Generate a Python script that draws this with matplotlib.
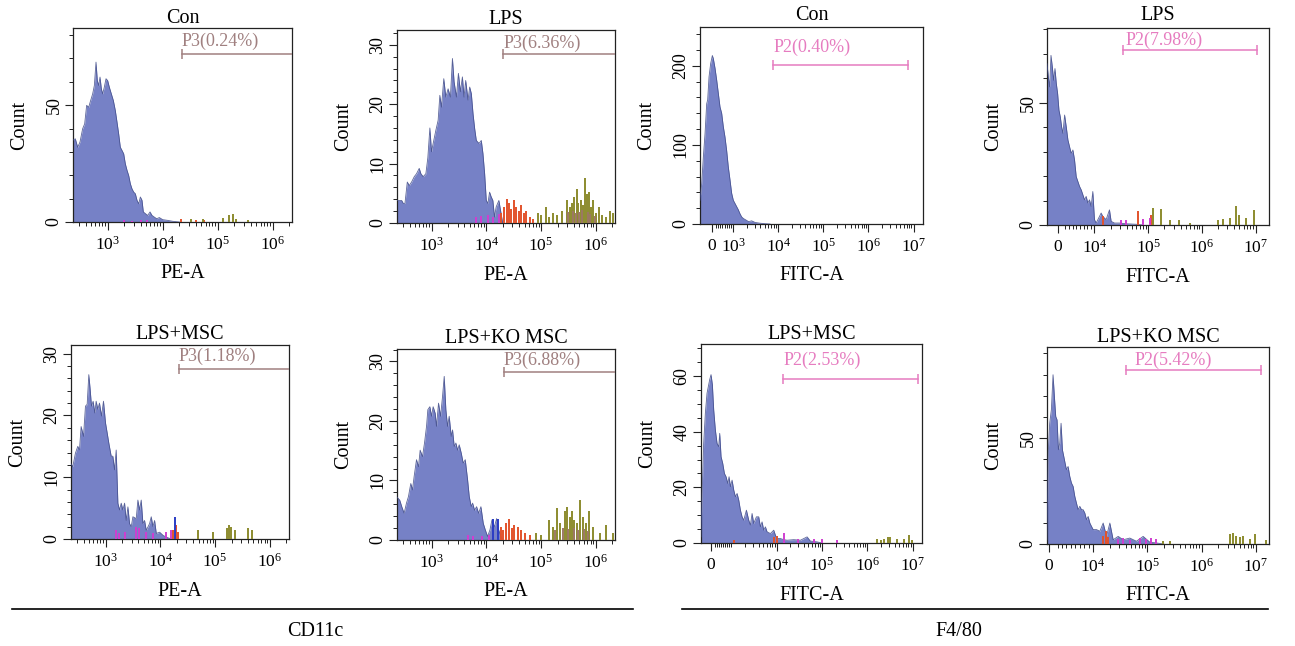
import numpy as np
import matplotlib
matplotlib.use("Agg")
import matplotlib.pyplot as plt
from matplotlib.lines import Line2D
from matplotlib.ticker import FixedLocator, MultipleLocator

plt.rcParams['font.family'] = ['Liberation Serif', 'DejaVu Serif']
plt.rcParams['mathtext.fontset'] = 'custom'
plt.rcParams['mathtext.rm'] = 'Liberation Serif'
plt.rcParams['mathtext.it'] = 'Liberation Serif:italic'
plt.rcParams['mathtext.bf'] = 'Liberation Serif:bold'

# ============================ DATA ============================
group_titles = ["Con", "LPS", "LPS+MSC", "LPS+KO MSC"]
marker_names = ["CD11c", "F4/80"]
channel_names = ["PE-A", "FITC-A"]
gate_names = ["P3", "P2"]
cd11c_gate_pct = ["0.24", "6.36", "1.18", "6.88"]
f480_gate_pct = ["0.40", "7.98", "2.53", "5.42"]

# ---- CD11c (PE-A), x given as log10(PE-A) ----
cd11c_con_exp = [2.36, 2.412, 2.455, 2.497, 2.545, 2.582, 2.618, 2.655, 2.691, 2.727,
                 2.758, 2.788, 2.812, 2.836, 2.861, 2.885, 2.909, 2.939, 2.970, 3.0,
                 3.030, 3.067, 3.103, 3.139, 3.170, 3.2, 3.230, 3.261, 3.291, 3.321,
                 3.352, 3.382, 3.412, 3.442, 3.473, 3.503, 3.533, 3.564, 3.594, 3.624,
                 3.648, 3.685, 3.727, 3.770, 3.806, 3.848, 3.891, 3.939, 4.0, 4.091,
                 4.182, 4.303]
cd11c_con_cnt = [34.9, 35.6, 32, 34.2, 39.9, 42, 49.9, 49.1, 52, 54.8,
                 58.4, 68.4, 60.5, 58.4, 62, 57, 54.8, 57.7, 61.3, 60.5,
                 57.7, 54.8, 52, 47.7, 42.7, 37.7, 32, 30.6, 29.2, 24.9,
                 22.1, 19.9, 16.4, 14.2, 12.8, 12.1, 9.3, 7.8, 10.7, 9.3,
                 4.3, 3.6, 2.8, 4.3, 2.8, 2.1, 1.4, 1.9, 1, 0.7,
                 0.3, 0]

cd11c_lps_exp = [2.36, 2.455, 2.485, 2.515, 2.558, 2.594, 2.636, 2.685, 2.727, 2.776,
                 2.806, 2.848, 2.897, 2.933, 2.970, 3.0, 3.03, 3.079, 3.121, 3.152,
                 3.182, 3.224, 3.261, 3.303, 3.345, 3.382, 3.412, 3.455, 3.491, 3.527,
                 3.564, 3.594, 3.624, 3.667, 3.697, 3.727, 3.758, 3.788, 3.818, 3.867,
                 3.909, 3.939, 3.97, 4.0, 4.03, 4.06, 4.09, 4.12, 4.15, 4.18,
                 4.23, 4.27, 4.30]
cd11c_lps_cnt = [3.8, 3.8, 3.3, 3.3, 6.9, 6.3, 6.9, 7.8, 8.3, 9.2,
                 8.3, 7.8, 8.3, 11, 16, 12, 13.4, 15.6, 17.3, 21.5,
                 19.5, 24.3, 21.2, 22.6, 21.2, 27.7, 23.8, 21.2, 25.2, 22.1,
                 24.6, 21.2, 24, 20.7, 22.9, 21.8, 18.4, 15.9, 13.9, 13.4,
                 13.9, 11.7, 8.3, 3.8, 3.3, 5.2, 4.4, 3.8, 1, 2.7,
                 3.8, 1.6, 0]

cd11c_msc_exp = [2.36, 2.402, 2.451, 2.494, 2.524, 2.555, 2.598, 2.634, 2.665, 2.695,
                 2.720, 2.744, 2.774, 2.805, 2.829, 2.860, 2.890, 2.927, 2.963, 3.0,
                 3.030, 3.061, 3.104, 3.134, 3.165, 3.195, 3.226, 3.256, 3.287, 3.317,
                 3.348, 3.378, 3.409, 3.439, 3.470, 3.5, 3.561, 3.591, 3.622, 3.652,
                 3.683, 3.713, 3.744, 3.805, 3.835, 3.866, 3.896, 3.927, 3.988, 4.049,
                 4.110, 4.171, 4.23]
cd11c_msc_cnt = [12.3, 11.7, 13.9, 15, 14.4, 18.2, 16.6, 21.5, 21.8, 26.6,
                 24.2, 21.5, 22.3, 20.4, 22.3, 21, 22, 19.9, 22.3, 18.8,
                 17.2, 15.5, 13.4, 13.4, 11.2, 14.4, 5.8, 4.7, 5.8, 4.7,
                 5.8, 3, 5.2, 2.5, 2, 3.6, 3.3, 6.3, 4.7, 6.3,
                 2.5, 3, 1.4, 2.5, 3.6, 2, 3, 0.9, 1.1, 0.6,
                 0.3, 0.1, 0]

cd11c_ko_exp = [2.36, 2.42, 2.457, 2.5, 2.543, 2.579, 2.622, 2.652, 2.683,
                2.726, 2.762, 2.793, 2.835, 2.872, 2.909, 2.933, 2.97, 3.0, 3.03,
                3.067, 3.091, 3.128, 3.165, 3.201, 3.232, 3.262, 3.293, 3.323, 3.36,
                3.384, 3.415, 3.445, 3.476, 3.506, 3.543, 3.579, 3.616, 3.659, 3.689,
                3.726, 3.75, 3.787, 3.823, 3.86, 3.902, 3.945, 3.982, 4.024, 4.067,
                4.104, 4.146, 4.189, 4.226, 4.268, 4.30]
cd11c_ko_cnt = [7.3, 6.7, 5.6, 4.5, 6.2, 7.3, 9.5, 8.4, 10.7,
                13.5, 12.3, 15.1, 14, 16.3, 19.1, 21.9, 22.4, 20.8, 22.4,
                21.3, 19.1, 23, 20.8, 24.1, 27.5, 21.9, 19.1, 20.8, 17.4,
                18.5, 15.7, 16.3, 15.1, 16, 14.6, 12.9, 13.5, 10.1, 7.3,
                5.6, 6.2, 5, 5.6, 4.5, 5.6, 2.8, 1.7, 0.6, 1.7,
                3.4, 2.2, 3.6, 1.7, 0.6, 0]

# coloured sub-populations, CD11c (log10 x, count)
cd11c_con_mag_exp = [3.3, 3.45, 3.6, 3.72]
cd11c_con_mag_h = [0.8, 0.6, 1.0, 0.7]
cd11c_con_red_exp = [4.33, 4.6, 4.75]
cd11c_con_red_h = [1.2, 1.0, 0.7]
cd11c_con_oli_exp = [4.52, 4.73, 5.09, 5.21, 5.27, 5.33, 5.55]
cd11c_con_oli_h = [1.4, 1.1, 1.9, 2.8, 3.3, 1.4, 1.0]

cd11c_lps_mag_exp = [3.82, 3.91, 4.03, 4.12, 4.24]
cd11c_lps_mag_h = [1.0, 1.2, 1.4, 1.0, 1.5]
cd11c_lps_red_exp = [4.27, 4.33, 4.38, 4.41, 4.45, 4.5, 4.55, 4.59, 4.64, 4.68, 4.73, 4.79, 4.85]
cd11c_lps_red_h = [1.6, 2.7, 4.1, 3.3, 2.4, 3.8, 2.7, 2.1, 3.0, 1.6, 2.1, 1.0, 0.7]
cd11c_lps_oli_exp = [4.94, 5.0, 5.09, 5.15, 5.21, 5.3, 5.39, 5.47, 5.52, 5.56, 5.61, 5.65,
                     5.68, 5.73, 5.77, 5.8, 5.83, 5.87, 5.91, 5.95, 6.0, 6.06, 6.12, 6.19,
                     6.25, 6.32]
cd11c_lps_oli_h = [1.6, 1.3, 2.7, 1.0, 1.6, 1.3, 2.1, 3.8, 2.7, 3.3, 4.4, 5.8,
                   3.3, 3.8, 3.0, 7.6, 4.9, 5.2, 2.7, 3.8, 1.6, 2.7, 1.3, 1.0,
                   2.1, 1.6]
cd11c_lps_brn_exp = [5.5, 5.58, 5.64, 5.7, 5.75, 5.85, 5.9, 5.98]
cd11c_lps_brn_h = [1.8, 2.0, 1.6, 1.8, 2.2, 1.9, 1.5, 1.2]

cd11c_msc_mag_exp = [3.2, 3.24, 3.35, 3.56, 3.61, 3.74, 3.87, 4.11, 4.2]
cd11c_msc_mag_h = [1.4, 0.9, 1.1, 2.0, 1.7, 1.1, 0.9, 1.1, 1.4]
cd11c_msc_blu_exp = [4.27]
cd11c_msc_blu_h = [3.6]
cd11c_msc_red_exp = [4.23, 4.29, 4.32]
cd11c_msc_red_h = [1.4, 2.2, 1.1]
cd11c_msc_oli_exp = [4.69, 4.96, 5.21, 5.26, 5.3, 5.36, 5.6, 5.68]
cd11c_msc_oli_h = [1.4, 1.1, 1.7, 2.2, 2.0, 1.4, 1.7, 1.4]

cd11c_ko_mag_exp = [3.66, 3.75, 3.93, 4.05]
cd11c_ko_mag_h = [0.8, 0.6, 0.6, 0.8]
cd11c_ko_blu_exp = [4.12, 4.21]
cd11c_ko_blu_h = [3.6, 3.6]
cd11c_ko_red_exp = [4.27, 4.31, 4.36, 4.42, 4.47, 4.51, 4.57, 4.63, 4.7, 4.79]
cd11c_ko_red_h = [2.2, 1.7, 2.8, 3.6, 2.0, 2.5, 2.2, 1.7, 1.1, 0.8]
cd11c_ko_oli_exp = [4.91, 5.0, 5.15, 5.21, 5.3, 5.35, 5.43, 5.47, 5.52, 5.57, 5.61, 5.65,
                    5.71, 5.76, 5.82, 5.88, 5.95, 6.07, 6.18, 6.31]
cd11c_ko_oli_h = [1.1, 0.8, 3.4, 2.2, 5.3, 2.8, 4.8, 5.6, 3.9, 4.8, 3.4, 2.8,
                  6.7, 3.9, 2.8, 4.8, 2.2, 1.1, 2.5, 1.1]
cd11c_ko_brn_exp = [5.25, 5.4, 5.5, 5.6, 5.68, 5.78, 5.86]
cd11c_ko_brn_h = [1.6, 2.0, 1.8, 2.1, 1.7, 1.9, 1.5]

# ---- F4/80 (FITC-A), x given in FITC-A units ----
f480_con_x = [-540, -462, -385, -308, -231, -185, -123, -46, 31, 77,
              154, 231, 308, 385, 462, 538, 615, 692, 769, 846,
              923, 1000, 1089, 1186, 1291, 1406, 1531, 1668, 1913, 2183,
              2555, 3030, 3910, 5053, 6534]
f480_con_cnt = [30, 51, 85, 114, 152, 157, 186, 203, 213, 209,
                197, 182, 165, 148, 140, 123, 110, 93, 72, 56,
                39, 30, 26, 22, 18, 13, 9, 7, 5, 3,
                4, 2, 1, 0.4, 0]

f480_lps_x = [-3000, -2636, -2273, -1909, -1545, -1182, -818, -455, -91, 273,
              636, 1000, 1364, 1818, 2273, 2727, 3182, 3636, 4091, 4545,
              5000, 5455, 5909, 6364, 6818, 7273, 7727, 8182, 8636, 9091,
              9545, 10000, 10740, 12390, 13310, 14300, 16490, 19030, 20440, 23580,
              29230, 38920, 59800, 80000]
f480_lps_cnt = [66, 60.6, 56.5, 69.4, 64.7, 59.2, 64, 57.9, 53.8, 47,
                44.3, 40.2, 37.5, 45, 40.2, 34.8, 32, 29.3, 30.7, 26.6,
                19.8, 17.8, 15.8, 14.4, 12.4, 10.3, 11.7, 9, 10.3, 7.6,
                13.7, 2.2, 0.8, 3.5, 4.9, 3.5, 2.2, 6.2, 1.5, 0.8,
                0.8, 0.5, 0.3, 0]

f480_msc_x = [-492, -443, -361, -279, -197, -131, -66, 0, 66, 131,
              213, 295, 377, 426, 492, 574, 656, 738, 820, 885,
              951, 1034, 1126, 1225, 1334, 1451, 1580, 1719, 1872, 2142,
              2411, 2625, 2857, 3109, 3561, 4005, 4362, 4747, 5168, 5625,
              6122, 7254, 8593, 9350, 10180, 12060, 14290, 16930, 23760, 33360,
              46820, 55100, 77400, 100000]
f480_msc_cnt = [2.2, 16.6, 35.8, 46.6, 53.8, 56.3, 58.7, 60.5, 56.9, 47.8,
                40.6, 35.8, 34.6, 39.4, 31, 28.6, 25, 23.8, 21.4, 23.8,
                20.2, 22.6, 19, 16.6, 17.8, 15.4, 11.8, 9.4, 8.2, 11.8,
                8.2, 6.4, 10.6, 7, 9.4, 9.4, 5.8, 7.6, 4.6, 5.8,
                4, 3.4, 4.6, 2.8, 1.6, 1.6, 1.2, 1, 1.2, 1,
                2.2, 0.7, 0.4, 0]

f480_ko_x = [-380, -75, 226, 602, 977, 1278, 1579, 1880, 2180, 2481,
             2782, 3083, 3383, 3684, 3985, 4361, 4737, 5113, 5489, 5865,
             6241, 6617, 6992, 7368, 7744, 8120, 8496, 8872, 9248, 9624,
             10000, 11520, 13270, 15280, 17600, 20270, 23350, 28880, 35650, 47300,
             62700, 83300, 110000, 146000, 200000]
f480_ko_cnt = [2, 44.5, 57, 63.4, 79.9, 69.7, 60.2, 58.6, 44.5, 47.6,
               57, 44.5, 41.4, 38.2, 35.1, 36.6, 31.9, 28.8, 27.2, 22.5,
               19.3, 16.2, 17.8, 16.2, 16.2, 14.6, 11.5, 13, 9.9, 8.3,
               6.8, 6.8, 6, 9.9, 3.6, 9.9, 2, 3.6, 2, 2.8,
               1.3, 3.6, 0.9, 0.5, 0]

# coloured sub-populations, F4/80 (FITC-A, count)
f480_lps_red_x = [14300, 64000, 114000]
f480_lps_red_h = [3.5, 5.6, 4.0]
f480_lps_mag_x = [31400, 39000, 79000, 106000]
f480_lps_mag_h = [2.0, 2.0, 2.5, 3.0]
f480_lps_oli_x = [122000, 175000, 250000, 383000, 590000, 1990000, 2450000, 3300000,
                  4400000, 5000000, 6700000, 9500000]
f480_lps_oli_h = [7.0, 6.5, 2.0, 2.0, 1.0, 2.0, 2.5, 3.0, 7.6, 4.0, 3.0, 6.0]

f480_msc_red_x = [1130, 8600, 10000]
f480_msc_red_h = [1.0, 2.0, 2.5]
f480_msc_mag_x = [14300, 30000, 65000, 100000, 210000]
f480_msc_mag_h = [3.6, 1.5, 1.5, 1.5, 1.0]
f480_msc_oli_x = [1630000, 2000000, 2300000, 2800000, 3200000, 4550000, 6400000, 8200000, 9700000]
f480_msc_oli_h = [1.5, 1.2, 1.5, 2.0, 2.2, 1.5, 1.5, 3.0, 1.0]

f480_ko_red_x = [15000, 17000, 19000]
f480_ko_red_h = [4.0, 6.0, 3.5]
f480_ko_mag_x = [28900, 35700, 47300, 72000, 96000, 118000, 146000]
f480_ko_mag_h = [2.5, 3.0, 2.0, 3.0, 2.5, 3.0, 2.5]
f480_ko_oli_x = [194000, 257000, 3270000, 3800000, 4350000, 5000000, 5770000, 7600000,
                 9400000, 15600000]
f480_ko_oli_h = [1.5, 1.5, 4.5, 5.0, 4.0, 3.5, 4.0, 2.5, 4.5, 2.0]

# gates (x start, x end, y level)
cd11c_gate_x0_exp = [4.35, 4.31, 4.335, 4.317]
cd11c_gate_y = [72, 28.5, 27.5, 28.2]
f480_gate_x0 = [7740, 33700, 13800, 41000]
f480_gate_x1 = [7480000, 10600000, 12900000, 12600000]
f480_gate_y = [201, 71.5, 58.9, 82]

# ============================ STYLE / LAYOUT ============================
FIG_W, FIG_H = 1295, 646
BLUE_FILL = '#7681c6'
BLUE_EDGE = '#404b88'
MAGENTA = '#cf3fd0'
RED = '#e2522b'
OLIVE = '#8c8b2e'
BROWN = '#9c7864'
SPIKE_BLUE = '#2a3cc4'
GATE_PE = '#a08080'
GATE_FITC = '#e67cc0'

fig = plt.figure(figsize=(FIG_W / 100, FIG_H / 100), dpi=100)


def px_rect(l, t, r, b):
    return [l / FIG_W, 1 - b / FIG_H, (r - l) / FIG_W, (b - t) / FIG_H]


def sup(d):
    return r'$\mathregular{10^{%d}}$' % d


pe_panels = [
    dict(rect=(73, 28, 292, 222), exp=cd11c_con_exp, cnt=cd11c_con_cnt, ytop=83,
         yt=[0, 50], ym=10, tpad=3.9, txt_dy=3, txt_dx=0,
         spikes=[(cd11c_con_mag_exp, cd11c_con_mag_h, MAGENTA),
                 (cd11c_con_red_exp, cd11c_con_red_h, RED),
                 (cd11c_con_oli_exp, cd11c_con_oli_h, OLIVE)]),
    dict(rect=(397, 30, 615, 223), exp=cd11c_lps_exp, cnt=cd11c_lps_cnt, ytop=32.5,
         yt=[0, 10, 20, 30], ym=2, tpad=4.6, txt_dy=1.5, txt_dx=0,
         spikes=[(cd11c_lps_mag_exp, cd11c_lps_mag_h, MAGENTA),
                 (cd11c_lps_red_exp, cd11c_lps_red_h, RED),
                 (cd11c_lps_oli_exp, cd11c_lps_oli_h, OLIVE),
                 (cd11c_lps_brn_exp, cd11c_lps_brn_h, BROWN)]),
    dict(rect=(71, 345, 289, 539), exp=cd11c_msc_exp, cnt=cd11c_msc_cnt, ytop=31.4,
         yt=[0, 10, 20, 30], ym=2, tpad=4.6, txt_dy=3, txt_dx=0,
         spikes=[(cd11c_msc_mag_exp, cd11c_msc_mag_h, MAGENTA),
                 (cd11c_msc_red_exp, cd11c_msc_red_h, RED),
                 (cd11c_msc_blu_exp, cd11c_msc_blu_h, SPIKE_BLUE),
                 (cd11c_msc_oli_exp, cd11c_msc_oli_h, OLIVE)]),
    dict(rect=(397, 349, 615, 540), exp=cd11c_ko_exp, cnt=cd11c_ko_cnt, ytop=32.1,
         yt=[0, 10, 20, 30], ym=2, tpad=4.6, txt_dy=2, txt_dx=0,
         spikes=[(cd11c_ko_mag_exp, cd11c_ko_mag_h, MAGENTA),
                 (cd11c_ko_blu_exp, cd11c_ko_blu_h, SPIKE_BLUE),
                 (cd11c_ko_red_exp, cd11c_ko_red_h, RED),
                 (cd11c_ko_oli_exp, cd11c_ko_oli_h, OLIVE),
                 (cd11c_ko_brn_exp, cd11c_ko_brn_h, BROWN)]),
]

fitc_panels = [
    dict(rect=(700, 27, 923, 224), x=f480_con_x, cnt=f480_con_cnt, ytop=249,
         yt=[0, 100, 200], ym=20, tpad=5.3, lt=1e3, ls=0.432, xl=(-540, 10 ** 7.21),
         xt=[0, 1e3, 1e4, 1e5, 1e6, 1e7], xtl=['0', sup(3), sup(4), sup(5), sup(6), sup(7)],
         txt_dy=6.5, txt_dx=0, spikes=[]),
    dict(rect=(1047, 28, 1269, 225), x=f480_lps_x, cnt=f480_lps_cnt, ytop=80.6,
         yt=[0, 50], ym=10, tpad=6.0, lt=1e4, ls=0.612, xl=(-3000, 10 ** 7.25),
         xt=[0, 1e4, 1e5, 1e6, 1e7], xtl=['0', sup(4), sup(5), sup(6), sup(7)],
         txt_dy=0.7, txt_dx=2,
         spikes=[(f480_lps_red_x, f480_lps_red_h, RED),
                 (f480_lps_mag_x, f480_lps_mag_h, MAGENTA),
                 (f480_lps_oli_x, f480_lps_oli_h, OLIVE)]),
    dict(rect=(701, 344, 922, 543), x=f480_msc_x, cnt=f480_msc_cnt, ytop=71.5,
         yt=[0, 20, 40, 60], ym=5, tpad=3.9, lt=1e3, ls=0.405, xl=(-492, 10 ** 7.206),
         xt=[0, 1e4, 1e5, 1e6, 1e7], xtl=['0', sup(4), sup(5), sup(6), sup(7)],
         txt_dy=7, txt_dx=0,
         spikes=[(f480_msc_red_x, f480_msc_red_h, RED),
                 (f480_msc_mag_x, f480_msc_mag_h, MAGENTA),
                 (f480_msc_oli_x, f480_msc_oli_h, OLIVE)]),
    dict(rect=(1047, 347, 1269, 544), x=f480_ko_x, cnt=f480_ko_cnt, ytop=93,
         yt=[0, 50], ym=10, tpad=-1.2, lt=1e4, ls=0.738, xl=(-380, 10 ** 7.24),
         xt=[0, 1e4, 1e5, 1e6, 1e7], xtl=['0', sup(4), sup(5), sup(6), sup(7)],
         txt_dy=0.7, txt_dx=6,
         spikes=[(f480_ko_red_x, f480_ko_red_h, RED),
                 (f480_ko_mag_x, f480_ko_mag_h, MAGENTA),
                 (f480_ko_oli_x, f480_ko_oli_h, OLIVE)]),
]


def common_style(ax, p, title, xlabel):
    l, t, r, b = p['rect']
    w, h = r - l, b - t
    ax.set_ylim(0, p['ytop'])
    ax.yaxis.set_major_locator(FixedLocator(p['yt']))
    ax.yaxis.set_minor_locator(MultipleLocator(p['ym']))
    for s in ax.spines.values():
        s.set_linewidth(0.9)
        s.set_color('#222222')
    ax.tick_params(axis='both', which='major', length=5.5, width=0.8, direction='out',
                   color='#222222')
    ax.tick_params(axis='both', which='minor', length=2.6, width=0.7, direction='out',
                   color='#222222')
    ax.tick_params(axis='x', labelsize=12.5, pad=4.5)
    ax.tick_params(axis='y', labelsize=13, pad=2, labelrotation=90)
    for lab in ax.get_yticklabels():
        lab.set_va('center')
    ax.set_title(title, fontsize=14.5, pad=p['tpad'])
    ax.set_xlabel(xlabel, fontsize=14.5, va='center')
    ax.xaxis.set_label_coords(0.5, -52 / h)
    ax.set_ylabel('Count', fontsize=14.5, va='center')
    ax.yaxis.set_label_coords(-53 / w, 0.5)
    ax.set_facecolor('white')


def draw_hist(ax, x, cnt, spikes):
    ax.fill_between(x, 0, cnt, color=BLUE_FILL, lw=0, zorder=2)
    ax.plot(x, cnt, color=BLUE_EDGE, lw=0.6, zorder=3, alpha=0.85)
    for sx, sh, c in spikes:
        ax.vlines(sx, 0, sh, colors=c, lw=1.4, zorder=4)


# ---- CD11c panels ----
for i, p in enumerate(pe_panels):
    ax = fig.add_axes(px_rect(*p['rect']))
    ax.set_xscale('log')
    ax.set_xlim(10 ** 2.37, 10 ** 6.35)
    x = np.power(10.0, p['exp'])
    sp = [(np.power(10.0, e), h, c) for e, h, c in p['spikes']]
    draw_hist(ax, x, p['cnt'], sp)
    ax.xaxis.set_major_locator(FixedLocator([1e3, 1e4, 1e5, 1e6]))
    ax.set_xticklabels([sup(3), sup(4), sup(5), sup(6)])
    ax.xaxis.set_minor_locator(FixedLocator([k * 10.0 ** d for d in range(2, 7) for k in range(2, 10)]))
    common_style(ax, p, group_titles[i], channel_names[0])
    # gate
    gx0 = 10 ** cd11c_gate_x0_exp[i]
    gy = cd11c_gate_y[i]
    ax.plot([gx0, 1e8], [gy, gy], color=GATE_PE, lw=1.1, zorder=5)
    ax.plot([gx0], [gy], marker='|', ms=7, mew=1.1, color=GATE_PE, zorder=5)
    ax.annotate(f"{gate_names[0]}({cd11c_gate_pct[i]}%)", xy=(gx0, gy),
                xytext=(p['txt_dx'], p['txt_dy']), textcoords='offset points',
                ha='left', va='bottom', fontsize=13, color=GATE_PE)

# ---- F4/80 panels ----
for i, p in enumerate(fitc_panels):
    ax = fig.add_axes(px_rect(*p['rect']))
    ax.set_xscale('symlog', linthresh=p['lt'], linscale=p['ls'], base=10)
    ax.set_xlim(*p['xl'])
    draw_hist(ax, p['x'], p['cnt'], p['spikes'])
    ax.xaxis.set_major_locator(FixedLocator(p['xt']))
    ax.set_xticklabels(p['xtl'])
    d0 = int(round(np.log10(p['lt'])))
    minors = [k * 10.0 ** d for d in range(d0, 7) for k in range(2, 10)]
    minors += [k * p['lt'] / 10 for k in range(2, 10)]
    if p['lt'] == 1e3 and 1e3 not in p['xt']:
        minors.append(1e3)
    ax.xaxis.set_minor_locator(FixedLocator(minors))
    common_style(ax, p, group_titles[i], channel_names[1])
    gx0, gx1, gy = f480_gate_x0[i], f480_gate_x1[i], f480_gate_y[i]
    ax.plot([gx0, gx1], [gy, gy], color=GATE_FITC, lw=1.1, zorder=5)
    ax.plot([gx0, gx1], [gy, gy], ls='none', marker='|', ms=7, mew=1.1,
            color=GATE_FITC, zorder=5)
    ax.annotate(f"{gate_names[1]}({f480_gate_pct[i]}%)", xy=(gx0, gy),
                xytext=(p['txt_dx'], p['txt_dy']), textcoords='offset points',
                ha='left', va='bottom', fontsize=13, color=GATE_FITC)

# ---- group brackets ----
for (x0, x1, xc), name in zip([(12, 633, 315), (682, 1268, 959)], marker_names):
    fig.add_artist(Line2D([x0 / FIG_W, x1 / FIG_W], [1 - 609 / FIG_H] * 2,
                          transform=fig.transFigure, color='black', lw=1.2))
    fig.text(xc / FIG_W, 1 - 632 / FIG_H, name, ha='center', va='center', fontsize=14.5)

fig.savefig('out.png', dpi=100, facecolor='white')
